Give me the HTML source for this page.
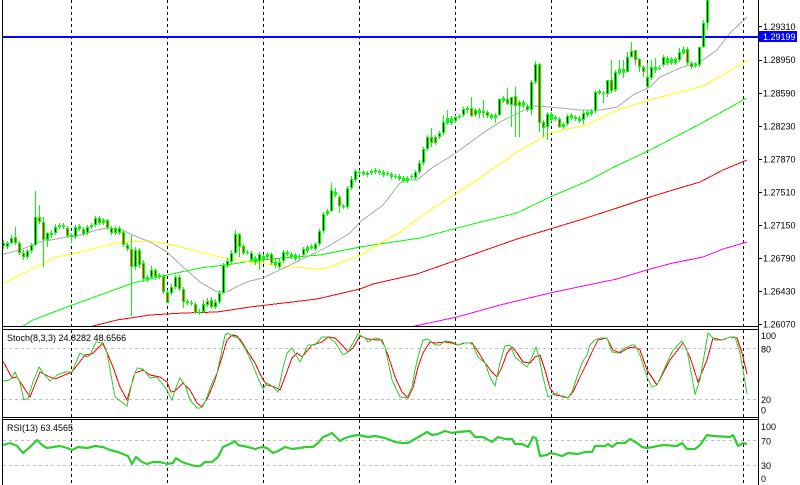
<!DOCTYPE html>
<html><head><meta charset="utf-8"><style>
html,body{margin:0;padding:0;background:#fff;}
svg{display:block;font-family:"Liberation Sans",sans-serif;}
</style></head><body>
<svg width="800" height="485" viewBox="0 0 800 485" xmlns="http://www.w3.org/2000/svg">
<defs>
<clipPath id="cm"><rect x="3" y="0" width="755" height="326"/></clipPath>
<clipPath id="cs"><rect x="3" y="330" width="755" height="87"/></clipPath>
<clipPath id="cr"><rect x="3" y="420" width="755" height="65"/></clipPath>
</defs>
<rect width="800" height="485" fill="#fff"/>

<!-- level lines -->
<g stroke="#c0c0c0" stroke-width="1" stroke-dasharray="3,3" shape-rendering="crispEdges">
<line x1="3" y1="348.5" x2="758" y2="348.5"/>
<line x1="3" y1="399.5" x2="758" y2="399.5"/>
<line x1="3" y1="440.5" x2="758" y2="440.5"/>
<line x1="3" y1="465.5" x2="758" y2="465.5"/>
</g>

<!-- vertical dashed -->
<g stroke="#000" stroke-width="1" stroke-dasharray="3,3" shape-rendering="crispEdges">
<line x1="71.5" y1="0" x2="71.5" y2="485"/>
<line x1="167.5" y1="0" x2="167.5" y2="485"/>
<line x1="263.5" y1="0" x2="263.5" y2="485"/>
<line x1="359.5" y1="0" x2="359.5" y2="485"/>
<line x1="455.5" y1="0" x2="455.5" y2="485"/>
<line x1="551.5" y1="0" x2="551.5" y2="485"/>
<line x1="647.5" y1="0" x2="647.5" y2="485"/>
<line x1="743.5" y1="0" x2="743.5" y2="485"/>
</g>

<g clip-path="url(#cm)">
<!-- MAs -->
<g fill="none" stroke-width="1" shape-rendering="crispEdges">
<polyline stroke="#ff00ff" points="405,328 410,327 457,317 500,305 550,293 583,286 617,279 650,269 673,263 703,257 723,249 747,242"/>
<polyline stroke="#ff0000" points="85,328 117,320 150,315 183,313 217,312 250,307 317,299 360,289 373,284 417,274 457,260 517,239 550,229 583,219 617,208 650,197 673,190 700,182 723,170 747,160"/>
<polyline stroke="#00ff00" points="20,328 33,320 67,307 100,295 133,283 167,275 200,268 233,264 250,261 283,258 320,255 360,247 400,241 420,238 457,228 517,213 550,197 590,180 610,169 650,150 700,124 747,98"/>
<polyline stroke="#ffff00" points="0,285 20,275 40,265 53,258 80,252 100,247 120,242 150,241 177,246 200,252 220,257 250,262 283,266 317,269 327,268 360,255 400,232 433,208 457,193 477,180 517,152 550,133 587,125 617,110 650,100 703,86 727,73 747,60"/>
<polyline stroke="#a8a8a8" points="0,255 20,250 40,242 67,237 80,235 97,230 107,228 120,229 133,235 150,242 167,252 183,267 200,282 217,292 227,292 240,285 250,281 263,278 317,252 327,247 350,233 360,222 383,205 400,183 407,180 417,180 433,167 453,155 483,133 500,122 520,112 533,106 550,107 580,110 600,110 617,107 633,95 650,87 660,77 680,68 700,62 717,50 730,33 747,17"/>
</g>

<!-- blue line -->
<rect x="3" y="36" width="755" height="2" fill="#0000ff"/>

<!-- candles -->
<g fill="none" shape-rendering="crispEdges">
<path stroke="#00ff00" stroke-width="1" d="M3.5 240V249M7.5 241V249M11.5 235V244M15.5 227V245M19.5 241V255M23.5 250V260M27.5 249V259M31.5 243V253M35.5 191V246M39.5 205V224M43.5 217V267M47.5 232V247M51.5 230V238M55.5 224V235M59.5 223V229M63.5 223V229M67.5 226V238M71.5 233V243M75.5 225V239M79.5 224V231M83.5 227V236M87.5 225V235M91.5 223V229M95.5 216V227M99.5 216V225M103.5 218V225M107.5 219V230M111.5 226V235M115.5 226V235M119.5 226V235M123.5 230V247M127.5 243V251M131.5 235V316M135.5 247V270M139.5 248V268M143.5 260V282M147.5 275V282M151.5 266V279M155.5 268V280M159.5 273V279M163.5 274V294M167.5 290V303M171.5 284V295M175.5 275V289M179.5 275V291M183.5 287V308M187.5 299V305M191.5 300V306M195.5 302V314M199.5 309V315M203.5 300V313M207.5 298V307M211.5 297V309M215.5 299V309M219.5 290V304M223.5 263V294M227.5 258V268M231.5 250V264M235.5 230V254M239.5 233V257M243.5 244V255M247.5 250V255M251.5 251V262M255.5 256V265M259.5 252V270M263.5 254V262M267.5 252V259M271.5 252V265M275.5 259V268M279.5 259V269M283.5 250V263M287.5 250V256M291.5 252V259M295.5 253V261M299.5 254V259M303.5 247V257M307.5 245V253M311.5 244V250M315.5 242V251M319.5 229V246M323.5 212V233M327.5 209V216M331.5 183V212M335.5 188V197M339.5 195V213M343.5 204V209M347.5 186V209M351.5 176V190M355.5 169V182M359.5 170V175M363.5 170V176M367.5 171V177M371.5 169V175M375.5 168V174M379.5 169V175M383.5 170V177M387.5 171V176M391.5 172V179M395.5 174V179M399.5 174V181M403.5 176V183M407.5 176V183M411.5 174V179M415.5 170V180M419.5 160V174M423.5 147V165M427.5 135V151M431.5 128V147M435.5 135V145M439.5 131V139M443.5 115V135M447.5 110V125M451.5 116V125M455.5 115V123M459.5 114V119M463.5 107V117M467.5 106V113M471.5 97V117M475.5 108V117M479.5 108V118M483.5 100V118M487.5 110V118M491.5 113V120M495.5 113V123M499.5 98V116M503.5 96V103M507.5 88V105M511.5 97V127M515.5 87V137M519.5 100V137M523.5 100V108M527.5 104V112M531.5 80V115M535.5 61V84M539.5 63V132M543.5 120V137M547.5 112V140M551.5 112V122M555.5 115V121M559.5 117V128M563.5 122V129M567.5 114V126M571.5 113V120M575.5 115V121M579.5 116V123M583.5 110V124M587.5 110V117M591.5 109V116M595.5 90V113M599.5 89V95M603.5 91V103M607.5 80V97M611.5 60V93M615.5 70V92M619.5 60V75M623.5 60V78M627.5 52V72M631.5 42V58M635.5 50V65M639.5 58V72M643.5 65V77M647.5 63V88M651.5 60V80M655.5 58V73M659.5 65V70M663.5 55V67M667.5 56V65M671.5 57V65M675.5 57V65M679.5 48V62M683.5 46V55M687.5 47V65M691.5 61V69M695.5 62V68M699.5 47V67M703.5 20V48M707.5 0V30"/>
<path stroke="#00ff00" stroke-width="3" d="M3.5 243V246M7.5 243V247M11.5 238V243M15.5 237V243M19.5 243V253M23.5 253V257M27.5 251V257M31.5 245V251M35.5 217V245M39.5 217V222M43.5 222V240M47.5 233V240M51.5 233V235M55.5 227V233M59.5 225V227M63.5 225V227M67.5 228V236M71.5 235V237M75.5 227V237M79.5 226V229M83.5 229V234M87.5 227V233M91.5 225V227M95.5 218V225M99.5 218V223M103.5 220V223M107.5 220V228M111.5 228V233M115.5 228V233M119.5 228V233M123.5 232V245M127.5 245V249M131.5 249V267M135.5 250V267M139.5 250V265M143.5 263V279M147.5 277V280M151.5 270V277M155.5 270V277M159.5 275V277M163.5 276V292M167.5 292V303M171.5 287V293M175.5 277V287M179.5 277V289M183.5 289V302M187.5 301V303M191.5 303V304M195.5 304V313M199.5 312V313M203.5 304V312M207.5 301V305M211.5 300V307M215.5 302V307M219.5 293V302M223.5 265V293M227.5 261V266M231.5 253V262M235.5 234V253M239.5 234V247M243.5 246V253M247.5 252V253M251.5 253V260M255.5 258V262M259.5 254V261M263.5 256V260M267.5 254V257M271.5 254V263M275.5 262V265M279.5 262V267M283.5 252V261M287.5 252V254M291.5 254V257M295.5 255V259M299.5 256V257M303.5 249V255M307.5 247V251M311.5 246V248M315.5 244V249M319.5 231V244M323.5 214V231M327.5 211V214M331.5 190V211M335.5 192V195M339.5 197V206M343.5 206V207M347.5 188V207M351.5 179V188M355.5 171V180M359.5 172V173M363.5 172V174M367.5 173V175M371.5 171V173M375.5 170V172M379.5 171V173M383.5 172V175M387.5 173V174M391.5 174V177M395.5 176V177M399.5 176V179M403.5 178V181M407.5 178V181M411.5 176V177M415.5 172V178M419.5 163V172M423.5 149V163M427.5 137V149M431.5 137V143M435.5 137V143M439.5 133V137M443.5 122V133M447.5 118V123M451.5 118V123M455.5 117V121M459.5 116V117M463.5 109V115M467.5 108V110M471.5 108V116M475.5 110V115M479.5 110V113M483.5 111V113M487.5 112V116M491.5 115V118M495.5 115V118M499.5 99V115M503.5 98V101M507.5 99V104M511.5 97V105M515.5 96V106M519.5 102V106M523.5 102V106M527.5 106V110M531.5 82V110M535.5 64V82M539.5 64V123M543.5 122V128M547.5 114V127M551.5 114V120M555.5 117V119M559.5 119V127M563.5 124V127M567.5 116V124M571.5 115V118M575.5 117V119M579.5 118V121M583.5 113V120M587.5 112V115M591.5 111V114M595.5 92V111M599.5 91V93M603.5 93V94M607.5 80V94M611.5 80V91M615.5 72V90M619.5 69V73M623.5 69V73M627.5 57V72M631.5 51V57M635.5 50V60M639.5 59V67M643.5 67V72M647.5 77V87M651.5 67V78M655.5 67V70M659.5 68V69M663.5 57V65M667.5 58V63M671.5 59V63M675.5 59V63M679.5 52V60M683.5 49V53M687.5 49V63M691.5 63V67M695.5 64V66M699.5 47V65M703.5 23V47M707.5 0V23"/>
<path stroke="#000" stroke-width="1" d="M3.5 244V245M7.5 244V246M11.5 239V242M27.5 252V256M31.5 246V250M35.5 218V244M47.5 234V239M55.5 228V232M75.5 228V236M87.5 228V232M95.5 219V224M111.5 229V232M119.5 229V232M135.5 251V266M151.5 271V276M171.5 288V292M175.5 278V286M203.5 305V311M207.5 302V304M215.5 303V306M219.5 294V301M223.5 266V292M227.5 262V265M231.5 254V261M235.5 235V252M251.5 254V259M259.5 255V260M279.5 263V266M283.5 253V260M303.5 250V254M315.5 245V248M319.5 232V243M323.5 215V230M331.5 191V210M347.5 189V206M351.5 180V187M355.5 172V179M415.5 173V177M419.5 164V171M423.5 150V162M427.5 138V148M439.5 134V136M443.5 123V132M455.5 118V120M463.5 110V114M499.5 100V114M511.5 98V104M531.5 83V109M535.5 65V81M547.5 115V126M567.5 117V123M583.5 114V119M595.5 93V110M607.5 81V93M615.5 73V89M627.5 58V71M631.5 52V56M647.5 78V86M651.5 68V77M663.5 58V64M679.5 53V59M699.5 48V64M703.5 24V46M707.5 1V22"/>
<path stroke="#ff0000" stroke-width="1" d="M15.5 238V242M19.5 244V252M23.5 254V256M39.5 218V221M43.5 223V239M67.5 229V235M83.5 230V233M99.5 219V222M107.5 221V227M115.5 229V232M123.5 233V244M127.5 246V248M131.5 250V266M139.5 251V264M143.5 264V278M155.5 271V276M163.5 277V291M167.5 293V302M179.5 278V288M183.5 290V301M195.5 305V312M211.5 301V306M239.5 235V246M243.5 247V252M271.5 255V262M339.5 198V205M431.5 138V142M435.5 138V142M471.5 109V115M475.5 111V114M487.5 113V115M507.5 100V103M515.5 97V105M519.5 103V105M527.5 107V109M539.5 65V122M543.5 123V127M559.5 120V126M611.5 81V90M635.5 51V59M639.5 60V66M643.5 68V71M687.5 50V62M691.5 64V66"/>
</g>
</g>

<!-- Stochastic -->
<g clip-path="url(#cs)" fill="none" stroke-width="1" shape-rendering="crispEdges">
<polyline stroke="#ff0000" points="3,361 12,378 17,377 30,397 40,372 50,377 55,379 72,372 85,355 92,354 103,343 113,367 120,387 127,400 135,373 143,370 150,375 160,377 167,382 171,392 175,391 183,383 190,390 197,403 202,407 208,397 215,380 222,357 227,340 232,335 237,336 242,342 248,352 255,363 262,378 267,385 275,387 280,390 285,377 292,358 297,353 302,357 312,345 322,342 328,337 335,338 342,345 348,352 353,348 360,336 368,339 377,340 382,340 388,355 395,377 402,392 408,398 413,388 418,367 423,353 430,342 435,343 445,342 452,343 458,345 465,343 472,343 477,350 485,363 492,372 497,377 502,367 507,353 512,347 517,353 523,362 530,363 535,357 540,355 545,370 550,388 555,395 562,396 568,398 573,392 580,377 585,367 592,352 598,340 607,338 613,350 620,353 628,348 635,347 640,350 647,370 657,385 670,360 683,343 690,357 698,382 707,360 713,338 722,340 730,337 737,338 742,353 747,374"/>
<polyline stroke="#32cd32" points="3,381 10,380 15,372 20,383 24,400 28,398 33,382 39,367 43,373 50,381 57,375 65,372 72,372 80,353 87,357 90,355 96,342 102,343 107,353 115,397 127,406 133,378 137,368 143,369 150,378 157,377 167,390 172,400 175,390 180,378 185,385 190,400 197,408 200,408 205,402 212,383 217,373 222,350 225,335 228,333 232,336 238,338 245,348 252,363 258,378 263,389 267,383 272,386 278,392 283,368 287,353 292,348 297,357 300,362 308,345 315,345 322,337 328,337 335,342 343,355 348,352 353,343 358,334 365,338 368,342 375,338 380,339 385,347 392,380 400,397 407,398 412,387 415,370 418,357 423,340 428,339 435,345 440,345 445,341 452,342 458,345 463,343 470,343 473,345 478,357 485,363 490,377 495,386 500,363 505,346 510,345 515,357 522,363 527,367 532,357 536,347 539,357 543,377 548,397 552,395 557,393 562,397 568,398 572,392 577,377 582,363 587,355 590,345 595,340 600,338 607,338 612,352 618,353 625,348 632,345 635,345 640,355 647,377 652,387 657,385 667,363 673,350 682,341 687,350 692,377 695,394 700,380 708,333 712,337 715,340 723,340 730,337 735,337 740,353 743,370 747,394"/>
</g>

<!-- RSI -->
<g clip-path="url(#cr)" fill="none">
<polyline stroke="#32cd32" stroke-width="2.2" stroke-linejoin="round" points="3,445 10,443 17,446 23,453 30,447 37,440 42,445 47,448 60,446 67,448 72,450 78,447 87,448 95,446 103,447 110,450 118,452 128,456 132,464 136,457 142,462 147,464 153,462 160,462 167,464 173,463 176,458 182,462 188,464 195,466 200,466 205,462 212,462 218,457 223,447 232,443 235,441 238,445 248,447 255,449 262,447 267,448 273,453 278,451 285,447 292,449 300,448 305,447 313,447 318,443 323,437 328,435 332,433 335,436 340,441 345,438 352,436 358,435 368,437 375,436 385,438 395,442 402,443 408,443 415,439 422,435 427,432 432,435 438,434 445,431 452,433 458,432 470,431 475,437 483,437 492,442 498,437 505,439 512,439 515,444 522,444 528,447 533,437 536,438 540,456 547,455 550,453 555,454 562,456 568,453 578,454 585,452 592,452 595,446 605,446 608,444 612,447 617,443 625,443 630,439 637,443 642,447 647,448 653,447 663,445 677,446 682,443 687,449 695,449 700,445 707,435 713,436 730,437 733,435 738,446 743,443 747,444"/>
</g>

<!-- frames -->
<g fill="#000" shape-rendering="crispEdges">
<rect x="2" y="0" width="1" height="485"/>
<rect x="758" y="0" width="1" height="485"/>
<rect x="2" y="326" width="757" height="1"/>
<rect x="2" y="329" width="757" height="1"/>
<rect x="2" y="417" width="757" height="1"/>
<rect x="2" y="419" width="757" height="1"/>
<rect x="758" y="26" width="4" height="1"/>
<rect x="758" y="60" width="4" height="1"/>
<rect x="758" y="93" width="4" height="1"/>
<rect x="758" y="126" width="4" height="1"/>
<rect x="758" y="159" width="4" height="1"/>
<rect x="758" y="192" width="4" height="1"/>
<rect x="758" y="225" width="4" height="1"/>
<rect x="758" y="258" width="4" height="1"/>
<rect x="758" y="291" width="4" height="1"/>
<rect x="758" y="324" width="4" height="1"/>
</g>

<!-- price labels -->
<g font-size="9" fill="#000">
<text x="763" y="30.2">1.29310</text>
<text x="763" y="63.2">1.28950</text>
<text x="763" y="96.3">1.28590</text>
<text x="763" y="129.3">1.28230</text>
<text x="763" y="162.3">1.27870</text>
<text x="763" y="195.4">1.27510</text>
<text x="763" y="228.4">1.27150</text>
<text x="763" y="261.4">1.26790</text>
<text x="763" y="294.5">1.26430</text>
<text x="763" y="327.5">1.26070</text>
</g>
<rect x="759" y="31" width="38" height="11" fill="#0000ff"/>
<text x="763" y="40" font-size="9" fill="#fff">1.29199</text>

<!-- indicator labels -->
<g font-size="9" fill="#000">
<text x="7" y="341">Stoch(8,3,3) 24.8282 48.6566</text>
<text x="7" y="431">RSI(13) 63.4565</text>
<text x="761" y="339">100</text>
<text x="761" y="352.5">80</text>
<text x="761" y="403">20</text>
<text x="761" y="413.5">0</text>
<text x="761" y="430">100</text>
<text x="761" y="444.5">70</text>
<text x="761" y="469">30</text>
<text x="761" y="482">0</text>
</g>
</svg>
</body></html>
